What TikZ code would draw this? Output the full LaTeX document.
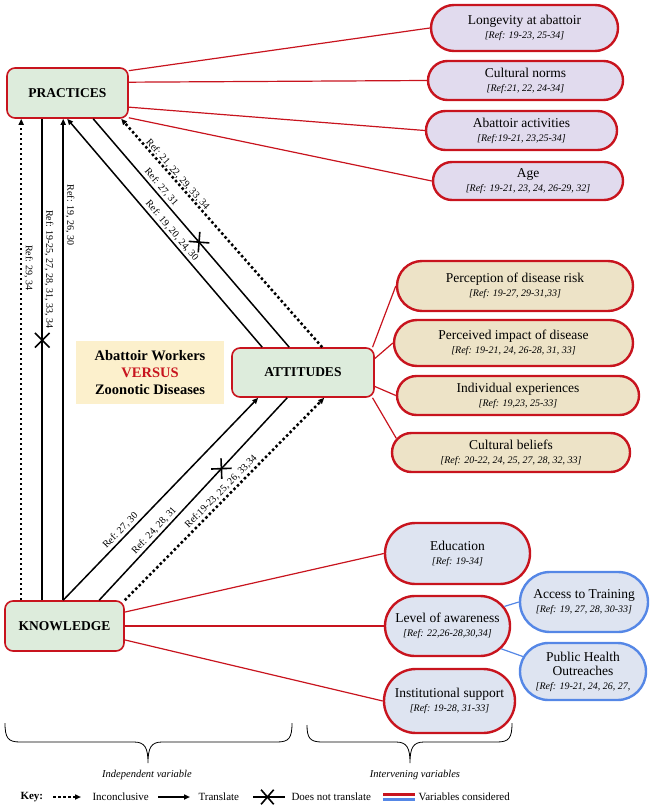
\documentclass[tikz,border=0pt]{standalone}
\usepackage{fontspec}
\setmainfont{Liberation Serif}
\usetikzlibrary{arrows.meta,shapes.misc}
\definecolor{varred}{RGB}{200,20,30}
\definecolor{varblue}{RGB}{85,135,230}
\definecolor{coregreen}{RGB}{221,236,220}
\definecolor{purplefill}{RGB}{225,219,238}
\definecolor{beigefill}{RGB}{237,227,199}
\definecolor{bluefill}{RGB}{222,228,241}
\definecolor{topicfill}{RGB}{252,240,204}
\newcommand{\refnote}[1]{{\fontsize{10}{12}\selectfont\itshape #1}}

\begin{document}
\begin{tikzpicture}[x=1pt, y=-1pt,
  core/.style={draw=varred, fill=coregreen, rounded corners=8pt, line width=1.6pt,
               font=\fontsize{13.5}{16}\selectfont\bfseries, minimum height=50pt},
  factor/.style={rounded rectangle, draw=varred, line width=2.4pt, align=center,
                 font=\fontsize{13.5}{14}\selectfont, inner sep=2pt},
  practice/.style={factor, fill=purplefill},
  attitude/.style={factor, fill=beigefill},
  knowl/.style={factor, fill=bluefill},
  extra/.style={knowl, draw=varblue},
  link/.style={draw=varred, line width=1.2pt},
  sublink/.style={draw=varblue, line width=1.2pt},
  trans/.style={line width=1.5pt, -{Triangle[length=6pt,width=5pt]}},
  noarr/.style={line width=1.5pt},
  incon/.style={line width=2.5pt, dash pattern=on 2.5pt off 2.5pt,
                -{Triangle[length=6pt,width=5pt]}},
  reflab/.style={font=\fontsize{10}{12}\selectfont, inner sep=2pt},
  xmark/.style={draw, cross out, sloped, line width=1.6pt, minimum width=13pt,
                minimum height=13pt, inner sep=0pt},
  note/.style={font=\fontsize{10.5}{12}\selectfont\itshape},
  keytxt/.style={font=\fontsize{11}{13}\selectfont, anchor=west}
]
  \useasboundingbox (0,0) rectangle (656,808);

  \node[core, minimum width=121pt] (prac) at (67.5,93) {PRACTICES};
  \node[core, minimum width=142pt, minimum height=49pt] (att) at (303,372.5) {ATTITUDES};
  \node[core, minimum width=119pt] (know) at (64.5,626) {KNOWLEDGE};
  \node[fill=topicfill, align=center, minimum width=148pt, minimum height=63pt,
        font=\fontsize{14.5}{17}\selectfont\bfseries] (topic) at (150,372.5)
    {Abattoir Workers\\\textcolor{varred}{VERSUS}\\Zoonotic Diseases};

  \node[practice, minimum width=191pt, minimum height=46pt] (lon) at (524.5,28)
    {Longevity at abattoir\\\refnote{[Ref: 19-23, 25-34]}};
  \node[practice, minimum width=199pt, minimum height=39pt] (cul) at (525.5,80.5)
    {Cultural norms\\\refnote{[Ref:21, 22, 24-34]}};
  \node[practice, minimum width=195pt, minimum height=39pt] (act) at (521.5,130.5)
    {Abattoir activities\\\refnote{[Ref:19-21, 23,25-34]}};
  \node[practice, minimum width=194pt, minimum height=38pt] (age) at (528,181)
    {Age\\\refnote{[Ref: 19-21, 23, 24, 26-29, 32]}};

  \node[attitude, minimum width=240pt, minimum height=50pt] (perc) at (515,286)
    {Perception of disease risk\\\refnote{[Ref: 19-27, 29-31,33]}};
  \node[attitude, minimum width=243pt, minimum height=46pt] (imp) at (513.5,343)
    {Perceived impact of disease\\\refnote{[Ref: 19-21, 24, 26-28, 31, 33]}};
  \node[attitude, minimum width=246pt, minimum height=39pt] (ind) at (518,395.5)
    {Individual experiences\\\refnote{[Ref: 19,23, 25-33]}};
  \node[attitude, minimum width=242pt, minimum height=39pt] (blf) at (511,452.5)
    {Cultural beliefs\\\refnote{[Ref: 20-22, 24, 25, 27, 28, 32, 33]}};

  \node[knowl, minimum width=149pt, minimum height=61pt] (edu) at (457.5,553.5)
    {Education\\\refnote{[Ref: 19-34]}};
  \node[knowl, minimum width=129pt, minimum height=60pt] (aware) at (447.5,626)
    {Level of awareness\\\refnote{[Ref: 22,26-28,30,34]}};
  \node[knowl, minimum width=135pt, minimum height=64pt] (inst) at (449.5,701)
    {Institutional support\\\refnote{[Ref: 19-28, 31-33]}};
  \node[extra, minimum width=132pt, minimum height=60pt] (train) at (584,602)
    {Access to Training\\\refnote{[Ref: 19, 27, 28, 30-33]}};
  \node[extra, minimum width=130pt, minimum height=57pt] (outr) at (583,671.5)
    {Public Health\\Outreaches\\\refnote{[Ref: 19-21, 24, 26, 27,}};

  \draw[link] (prac.20) -- (lon.west);
  \draw[link] (prac.10) -- (cul.west);
  \draw[link] (prac.-13) -- (act.west);
  \draw[link] (prac.-22) -- (age.west);
  \draw[link] (att.20) -- (perc.west);
  \draw[link] (att.11) -- (imp.west);
  \draw[link] (att.-11) -- (ind.west);
  \draw[link] (att.-20) -- (blf.173);
  \draw[link] (know.13) -- (edu.west);
  \draw[link] (know.east) -- (aware.west);
  \draw[link] (know.-13) -- (inst.west);
  \draw[sublink] (aware.19) -- (train.west);
  \draw[sublink] (aware.-23) -- (outr.166);

  \draw[incon] ([xshift=17pt]know.north west) -- ([xshift=15pt]prac.south west)
    node[reflab, pos=0.69, rotate=-90, above] {Ref: 29, 34};
  \draw[noarr] ([xshift=38pt]know.north west) -- ([xshift=36pt]prac.south west)
    node[xmark, pos=0.54] {}
    node[reflab, pos=0.687, rotate=-90, above] {Ref: 19-25, 27, 28, 31, 33, 34};
  \draw[trans] ([xshift=59pt]know.north west) -- ([xshift=57pt]prac.south west)
    node[reflab, pos=0.8, rotate=-90, above] {Ref: 19, 26, 30};

  \draw[trans] ([xshift=31pt]att.north west) -- ([xshift=61pt]prac.south west)
    node[reflab, pos=0.49, sloped, above] {Ref: 19, 20, 24, 30};
  \draw[noarr] ([xshift=87pt]prac.south west) -- ([xshift=58pt]att.north west)
    node[xmark, pos=0.54] {}
    node[reflab, pos=0.32, sloped, above] {Ref: 27, 31};
  \draw[incon] ([xshift=91pt]att.north west) -- ([xshift=115pt]prac.south west)
    node[reflab, pos=0.74, sloped, above, inner sep=0pt] {Ref: 21, 22, 29, 33, 34};

  \draw[trans] ([xshift=59pt]know.north west) -- ([xshift=27pt]att.south west)
    node[reflab, pos=0.32, sloped, above] {Ref: 27, 30};
  \draw[noarr] ([xshift=56pt]att.south west) -- ([xshift=95pt]know.north west)
    node[xmark, pos=0.35] {}
    node[reflab, pos=0.68, sloped, above] {Ref: 24, 28, 31};
  \draw[incon] (know.north east) -- ([xshift=93pt]att.south west)
    node[reflab, pos=0.51, sloped, above] {Ref:19-23, 25, 26, 33,34};

  \draw[line width=0.8pt] (5,723) .. controls (5,738) and (8,742) .. (20,742)
    -- (134,742) .. controls (145,742) and (148,748) .. (148,763)
    .. controls (148,748) and (151,742) .. (162,742) -- (277,742)
    .. controls (289,742) and (292,738) .. (292,723);
  \draw[line width=0.8pt] (307,725) .. controls (307,738) and (310,742) .. (322,742)
    -- (396,742) .. controls (407,742) and (410,748) .. (410,763)
    .. controls (410,748) and (413,742) .. (424,742) -- (497,742)
    .. controls (509,742) and (512,738) .. (512,723);
  \node[note] (indep) at (147,775) {Independent variable};
  \node[note] (interv) at (415,775) {Intervening variables};

  \node[keytxt, font=\fontsize{11}{13}\selectfont\bfseries] (key) at (17,797) {Key:};
  \coordinate (kia) at (53,797);
  \coordinate (kib) at (81,797);
  \draw[incon] (kia) -- (kib);
  \node[keytxt] (kinc) at (89,797) {Inconclusive};
  \coordinate (kta) at (158,797);
  \coordinate (ktb) at (190,797);
  \draw[trans] (kta) -- (ktb);
  \node[keytxt] (ktr) at (195,797) {Translate};
  \coordinate (kna) at (253,797);
  \coordinate (knb) at (285,797);
  \draw[noarr] (kna) -- (knb) node[xmark, pos=0.45, minimum width=11pt] {};
  \node[keytxt] (knt) at (288,797) {Does not translate};
  \coordinate (kra) at (383,794.5);
  \coordinate (krb) at (415,794.5);
  \coordinate (kba) at (383,799.5);
  \coordinate (kbb) at (415,799.5);
  \draw[draw=varred, line width=2.4pt] (kra) -- (krb);
  \draw[draw=varblue, line width=2.4pt] (kba) -- (kbb);
  \node[keytxt] (kvar) at (415,797) {Variables considered};
\end{tikzpicture}
\end{document}
